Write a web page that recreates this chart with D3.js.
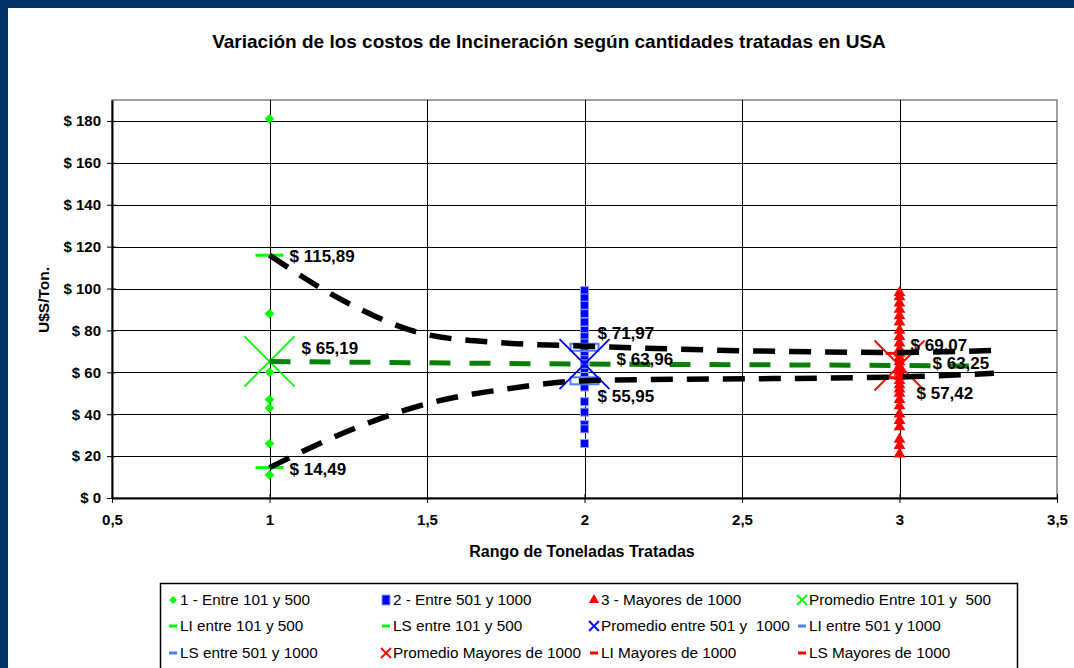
<!DOCTYPE html>
<html>
<head>
<meta charset="utf-8">
<script src="https://cdn.jsdelivr.net/npm/d3@7"></script>
<style>
  html, body { margin: 0; padding: 0; background: #fff; }
  svg { display: block; font-family: "Liberation Sans", Arial, sans-serif; }
  text { white-space: pre; }
</style>
</head>
<body>
<svg id="chart" width="1074" height="668"></svg>
<script>
// ---- data ----
var xTicks = [0.5, 1, 1.5, 2, 2.5, 3, 3.5];
var yTicks = [0, 20, 40, 60, 80, 100, 120, 140, 160, 180];

// scatter values per tonnage range
var rango1 = [181, 88, 60, 47, 43, 26, 11];
var rango2 = [99, 95.5, 92, 88, 84, 80, 77, 74, 71, 68, 66, 64, 62, 60, 58, 56, 53, 46, 41, 35, 33, 26];
var rango3 = [98, 96, 93, 90, 87, 84, 80, 77, 74, 71, 69, 67, 65, 63, 61, 60, 58, 56, 54, 52, 50, 47, 44, 40, 37, 34, 28, 25, 21];

var rangos = [1, 2, 3];
var promedios = [65.19, 63.96, 63.25];
var limInf = [14.49, 55.95, 57.42];
var limSup = [115.89, 71.97, 69.07];

// hand drawn dashed curves
var curvaSupX = [1, 1.25, 1.5, 1.75, 2, 3, 3.3];
var curvaSupY = [115.89, 93, 78, 74, 72.5, 69.5, 70.5];
var curvaInfX = [1, 1.25, 1.5, 1.75, 2, 3, 3.3];
var curvaInfY = [14.49, 32, 45, 52, 56, 57.8, 59.5];
var curvaPromX = [1, 2, 3, 3.22];
var curvaPromY = [65.19, 63.96, 63.25, 63];

var legendLabels = [
  "1 - Entre 101 y 500", "2 - Entre 501 y 1000", "3 - Mayores de 1000", "Promedio Entre 101 y  500",
  "LI entre 101 y 500", "LS entre 101 y 500", "Promedio entre 501 y  1000", "LI entre 501 y 1000",
  "LS entre 501 y 1000", "Promedio Mayores de 1000", "LI Mayores de 1000", "LS Mayores de 1000"
];
var legendKinds = ["diamond", "square", "triangle", "x", "dash", "dash", "x", "dash", "dash", "x", "dash", "dash"];

// ---- styles ----
var GREEN = "#00ff00", BLUE = "#0000ff", RED = "#ff0000", LBLUE = "#4f7fff", DKGREEN = "#0a800a";
var legendColors = [GREEN, BLUE, RED, GREEN, GREEN, GREEN, BLUE, LBLUE, LBLUE, RED, RED, RED];
var rangeColors = [GREEN, BLUE, RED];
var limColors = [GREEN, LBLUE, RED];
// label offsets (dx, dy) for value labels: [LS, promedio, LI] per range
var labelOffsets = [
  [[20, 7], [32, -7], [20, 7]],
  [[13, -8], [32, 1], [13, 21]],
  [[11, -2], [33, 3], [17, 21]]
];

var svg = d3.select("#chart");
var W = 1074, H = 668;
var plot = {left: 112, right: 1057, top: 100, bottom: 498};

// page frame
svg.append("rect").attr("width", W).attr("height", H).attr("fill", "#003366");
svg.append("rect").attr("x", 8).attr("y", 8).attr("width", W - 8).attr("height", H - 8).attr("fill", "#fff");

var x = d3.scaleLinear().domain([0.5, 3.5]).range([plot.left, plot.right]);
var y = d3.scaleLinear().domain([0, 190]).range([plot.bottom, plot.top]);

function fmt(v) { return String(v).replace(".", ","); }
function money(v) { return "$ " + v.toFixed(2).replace(".", ","); }

// title
svg.append("text")
  .attr("x", 549).attr("y", 48)
  .attr("text-anchor", "middle")
  .attr("font-size", 19).attr("font-weight", "bold")
  .text("Variación de los costos de Incineración según cantidades tratadas en USA");

// plot border
svg.append("rect")
  .attr("x", plot.left).attr("y", plot.top)
  .attr("width", plot.right - plot.left).attr("height", plot.bottom - plot.top)
  .attr("fill", "#fff").attr("stroke", "#808080").attr("stroke-width", 1.5);

// gridlines
var grid = svg.append("g").attr("stroke", "#000").attr("stroke-width", 1);
grid.selectAll(".hg").data(yTicks.filter(function(d) { return d > 0; })).enter().append("line")
  .attr("x1", plot.left).attr("x2", plot.right)
  .attr("y1", function(d) { return Math.round(y(d)) + 0.5; })
  .attr("y2", function(d) { return Math.round(y(d)) + 0.5; });
grid.selectAll(".vg").data(xTicks.slice(1, -1)).enter().append("line")
  .attr("y1", plot.top).attr("y2", plot.bottom)
  .attr("x1", function(d) { return Math.round(x(d)) + 0.5; })
  .attr("x2", function(d) { return Math.round(x(d)) + 0.5; });

// axes
var yAxis = svg.append("g")
  .attr("transform", "translate(" + plot.left + ",0)")
  .call(d3.axisLeft(y).tickValues(yTicks).tickSizeInner(5).tickSizeOuter(0).tickPadding(6)
        .tickFormat(function(d) { return "$ " + d; }));
var xAxis = svg.append("g")
  .attr("transform", "translate(0," + plot.bottom + ")")
  .call(d3.axisBottom(x).tickValues(xTicks).tickSizeInner(5).tickSizeOuter(0).tickPadding(11)
        .tickFormat(fmt));
[yAxis, xAxis].forEach(function(ax) {
  ax.select(".domain").attr("stroke", "#000").attr("stroke-width", 2);
  ax.selectAll(".tick line").attr("stroke", "#000").attr("stroke-width", 1);
  ax.selectAll(".tick text").attr("font-size", 15).attr("font-weight", "bold")
    .attr("font-family", "Liberation Sans, Arial, sans-serif").attr("fill", "#000");
});
// ticks crossing the axis lines
yAxis.selectAll(".tick line").attr("x1", 4);
xAxis.selectAll(".tick line").attr("y1", -4);

// axis titles
svg.append("text")
  .attr("transform", "translate(49,300) rotate(-90)")
  .attr("text-anchor", "middle").attr("font-size", 15.5).attr("font-weight", "bold")
  .text("U$S/Ton.");
svg.append("text")
  .attr("x", 582).attr("y", 557)
  .attr("text-anchor", "middle").attr("font-size", 16).attr("font-weight", "bold")
  .text("Rango de Toneladas Tratadas");

// ---- marks ----
var symDiamond = d3.symbol().type(d3.symbolDiamond2).size(60);
var symTriangle = d3.symbol().type(d3.symbolTriangle).size(60);

var g1 = svg.append("g");
g1.selectAll("path").data(rango1).enter().append("path")
  .attr("d", symDiamond)
  .attr("transform", function(d) { return "translate(" + x(1) + "," + y(d) + ")"; })
  .attr("fill", GREEN);

var g2 = svg.append("g");
g2.selectAll("rect").data(rango2).enter().append("rect")
  .attr("x", x(2) - 4).attr("y", function(d) { return y(d) - 4; })
  .attr("width", 8).attr("height", 8)
  .attr("fill", BLUE).attr("stroke", "#8aa2ff").attr("stroke-width", 1);

var g3 = svg.append("g");
g3.selectAll("path").data(rango3).enter().append("path")
  .attr("d", symTriangle)
  .attr("transform", function(d) { return "translate(" + x(3) + "," + y(d) + ")"; })
  .attr("fill", RED);

// LI / LS markers
var lims = svg.append("g");
rangos.forEach(function(r, i) {
  [limInf[i], limSup[i]].forEach(function(v) {
    if (i === 1) {
      lims.append("rect").attr("x", x(r) - 14).attr("y", y(v) - 3.5).attr("width", 28).attr("height", 7)
        .attr("fill", "none").attr("stroke", LBLUE).attr("stroke-width", 2);
    } else {
      lims.append("rect").attr("x", x(r) - 14).attr("y", y(v) - 1.5).attr("width", 28).attr("height", 3)
        .attr("fill", limColors[i]);
    }
  });
});

// average X markers
var xs = svg.append("g");
xs.selectAll("path").data(promedios).enter().append("path")
  .attr("d", function(d, i) {
    var cx = x(rangos[i]), cy = y(d), h = 25;
    return "M" + (cx - h) + "," + (cy - h) + "L" + (cx + h) + "," + (cy + h) +
           "M" + (cx - h) + "," + (cy + h) + "L" + (cx + h) + "," + (cy - h);
  })
  .attr("stroke", function(d, i) { return rangeColors[i]; })
  .attr("stroke-width", 1.8).attr("fill", "none");

// dashed curves
var line = d3.line().curve(d3.curveMonotoneX);
function curve(xsArr, ysArr) { return line(xsArr.map(function(v, i) { return [x(v), y(ysArr[i])]; })); }
svg.append("path").attr("d", curve(curvaPromX, curvaPromY))
  .attr("fill", "none").attr("stroke", DKGREEN).attr("stroke-width", 5).attr("stroke-dasharray", "21 19");
svg.append("path").attr("d", curve(curvaSupX, curvaSupY))
  .attr("fill", "none").attr("stroke", "#000").attr("stroke-width", 5.5).attr("stroke-dasharray", "22 14");
svg.append("path").attr("d", curve(curvaInfX, curvaInfY))
  .attr("fill", "none").attr("stroke", "#000").attr("stroke-width", 5.5).attr("stroke-dasharray", "22 14");

// value labels
var labels = svg.append("g").attr("font-size", 17).attr("font-weight", "bold");
rangos.forEach(function(r, i) {
  [limSup[i], promedios[i], limInf[i]].forEach(function(v, k) {
    var off = labelOffsets[i][k];
    labels.append("text").attr("x", x(r) + off[0]).attr("y", y(v) + off[1]).text(money(v));
  });
});

// ---- legend ----
var lg = svg.append("g");
lg.append("rect").attr("x", 160.5).attr("y", 583.5).attr("width", 857).attr("height", 100)
  .attr("fill", "#fff").attr("stroke", "#000").attr("stroke-width", 1.5);
var colX = [180, 393, 601, 809], rowY = [600, 626, 653];
legendLabels.forEach(function(lab, i) {
  var tx = colX[i % 4], ty = rowY[Math.floor(i / 4)];
  var mx = tx - 7, c = legendColors[i], kind = legendKinds[i];
  var item = lg.append("g");
  if (kind === "diamond") {
    item.append("path").attr("d", d3.symbol().type(d3.symbolDiamond2).size(40))
      .attr("transform", "translate(" + mx + "," + ty + ")").attr("fill", c);
  } else if (kind === "square") {
    item.append("rect").attr("x", mx - 4).attr("y", ty - 5).attr("width", 8).attr("height", 10)
      .attr("fill", c).attr("stroke", "#8aa2ff").attr("stroke-width", 1);
  } else if (kind === "triangle") {
    item.append("path").attr("d", d3.symbol().type(d3.symbolTriangle).size(45))
      .attr("transform", "translate(" + mx + "," + ty + ")").attr("fill", c);
  } else if (kind === "x") {
    item.append("path").attr("d", "M" + (mx - 5) + "," + (ty - 5) + "L" + (mx + 5) + "," + (ty + 5) +
      "M" + (mx - 5) + "," + (ty + 5) + "L" + (mx + 5) + "," + (ty - 5))
      .attr("stroke", c).attr("stroke-width", 1.8);
  } else {
    item.append("rect").attr("x", mx - 4).attr("y", ty - 1.5).attr("width", 8).attr("height", 3).attr("fill", c);
  }
  item.append("text").attr("x", tx).attr("y", ty + 5).attr("font-size", 15.3).text(lab);
});
</script>
</body>
</html>
